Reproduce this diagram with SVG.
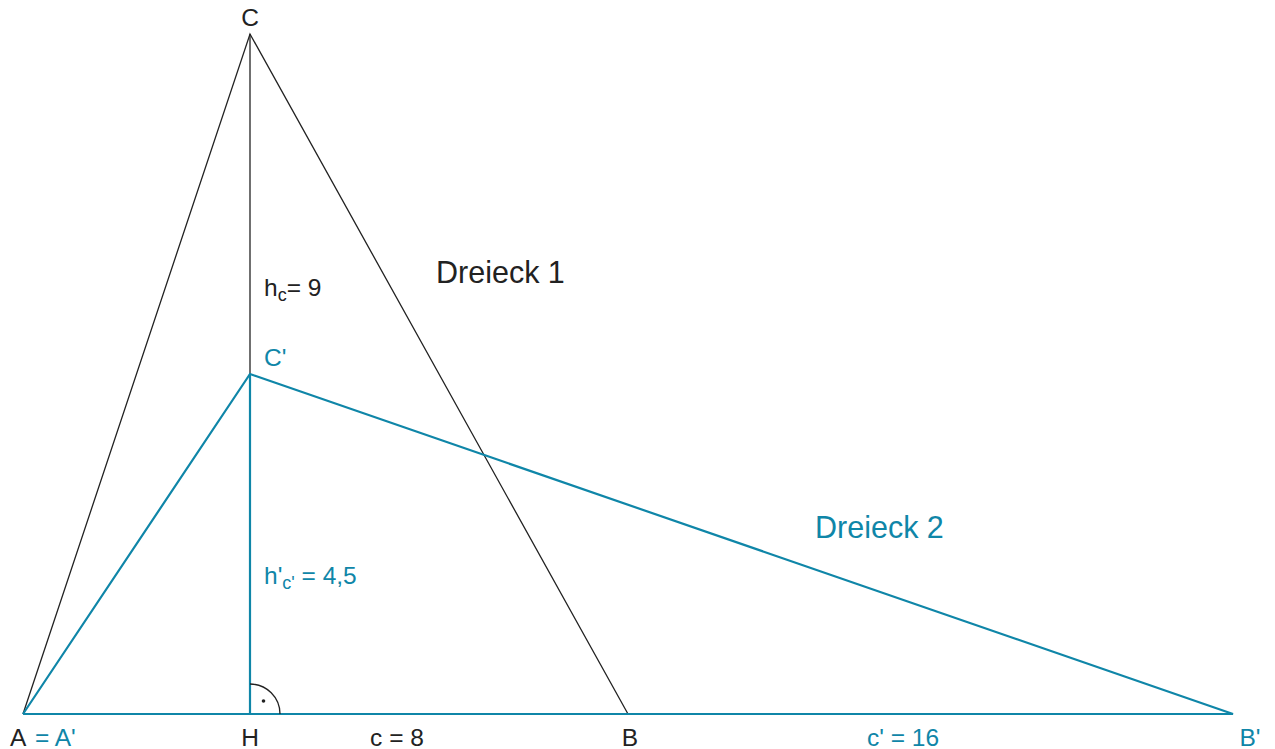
<svg xmlns="http://www.w3.org/2000/svg" width="1275" height="749" viewBox="0 0 1275 749">
<style>
.k{fill:none;stroke:#222;stroke-width:1.3}
.b{fill:none;stroke:#0f86a8;stroke-width:2.2}
text{font-family:"Liberation Sans",Arial,sans-serif;font-size:24.5px;fill:#222}
.bt{fill:#0f86a8}
.big{font-size:30.5px}
</style>
<rect width="1275" height="749" fill="#fff"/>
<g id="connectors">
<polyline class="k" points="23,714 250,34 628,714"/>
<line class="k" x1="250" y1="34" x2="250" y2="374"/>
<polyline class="b" points="23,714 250,374 1233,714 23,714"/>
<line class="b" x1="250" y1="374" x2="250" y2="714"/>
<path class="k" d="M250,684 A30,30 0 0 1 280,714"/>
<circle cx="263.5" cy="701" r="1.8" fill="#222"/>
</g>
<g id="node-C"><text x="250" y="26" text-anchor="middle">C</text></g>
<g id="node-A"><text x="10" y="746">A</text><text x="35" y="746" class="bt">= A'</text></g>
<g id="node-H"><text x="250" y="746" text-anchor="middle">H</text></g>
<g id="node-B"><text x="630" y="746" text-anchor="middle">B</text></g>
<g id="node-Bp"><text x="1250" y="746" text-anchor="middle" class="bt">B'</text></g>
<g id="node-Cp"><text x="264" y="366" class="bt">C'</text></g>
<g id="label-c"><text x="397" y="746" text-anchor="middle">c = 8</text></g>
<g id="label-cp"><text x="903" y="746" text-anchor="middle" class="bt">c' = 16</text></g>
<g id="label-hc"><text x="264" y="296">h<tspan font-size="18" dy="5">c</tspan><tspan dy="-5">= 9</tspan></text></g>
<g id="label-hcp"><text x="264" y="584" class="bt">h'<tspan font-size="18" dy="5">c'</tspan><tspan dy="-5"> = 4,5</tspan></text></g>
<g id="label-d1"><text x="436" y="283" class="big">Dreieck 1</text></g>
<g id="label-d2"><text x="815" y="538" class="big bt">Dreieck 2</text></g>
</svg>
